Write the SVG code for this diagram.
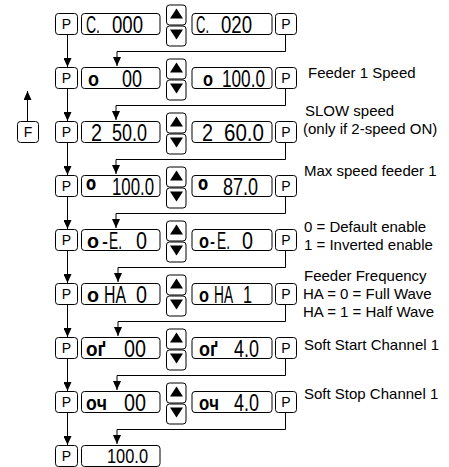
<svg xmlns="http://www.w3.org/2000/svg" xmlns:xlink="http://www.w3.org/1999/xlink" width="449" height="467" viewBox="0 0 449 467">
<style>
.box{fill:#fff;stroke:#000;stroke-width:1}
.tri{fill:#000;stroke:none}
.ln{fill:none;stroke:#000;stroke-width:1}
.p{font-family:"Liberation Sans",Arial,sans-serif;font-size:14px;text-anchor:middle;fill:#000}
.d{font-family:"Liberation Sans Narrow","Liberation Sans",Arial,sans-serif;font-size:23px;fill:#000}
.g{font-family:"Liberation Sans",Arial,sans-serif;font-size:20px;font-weight:bold;fill:#000}
.lab{font-family:"Liberation Sans",Arial,sans-serif;font-size:15px;fill:#000}
</style>
<defs>
<marker id="ah" markerUnits="userSpaceOnUse" viewBox="0 0 9 8" markerWidth="9" markerHeight="8" refX="9" refY="4" orient="auto">
<path d="M0,0 L9,4 L0,8 Z" fill="#000"/>
</marker>
<g id="btns">
<rect class="box" x="166.5" y="-8.5" width="19.5" height="20" rx="3"/>
<path class="tri" d="M170 5 L183 5 L176.5 -5 Z"/>
<rect class="box" x="166.5" y="12.5" width="19.5" height="20" rx="3"/>
<path class="tri" d="M170 16 L183 16 L176.5 26 Z"/>
</g>
</defs>

<g id="connectors">
<line class="ln" x1="27.5" y1="121.5" x2="27.5" y2="91" marker-end="url(#ah)"/>
<line class="ln" x1="67.5" y1="34.5" x2="67.5" y2="67" marker-end="url(#ah)"/>
<line class="ln" x1="67.5" y1="88.5" x2="67.5" y2="121" marker-end="url(#ah)"/>
<line class="ln" x1="67.5" y1="142.5" x2="67.5" y2="175" marker-end="url(#ah)"/>
<line class="ln" x1="67.5" y1="196.5" x2="67.5" y2="229" marker-end="url(#ah)"/>
<line class="ln" x1="67.5" y1="250.5" x2="67.5" y2="283" marker-end="url(#ah)"/>
<line class="ln" x1="67.5" y1="304.5" x2="67.5" y2="337" marker-end="url(#ah)"/>
<line class="ln" x1="67.5" y1="358.5" x2="67.5" y2="391" marker-end="url(#ah)"/>
<line class="ln" x1="67.5" y1="412.5" x2="67.5" y2="445" marker-end="url(#ah)"/>
<polyline class="ln" points="285.5,34.5 285.5,51.5 117,51.5 117,66" marker-end="url(#ah)"/>
<polyline class="ln" points="285.5,88.5 285.5,105.5 116,105.5 116,120" marker-end="url(#ah)"/>
<polyline class="ln" points="285.5,142.5 285.5,159.5 116,159.5 116,174" marker-end="url(#ah)"/>
<polyline class="ln" points="285.5,196.5 285.5,213.5 116,213.5 116,228" marker-end="url(#ah)"/>
<polyline class="ln" points="285.5,250.5 285.5,267.5 118,267.5 118,282" marker-end="url(#ah)"/>
<polyline class="ln" points="285.5,304.5 285.5,321.5 118,321.5 118,336" marker-end="url(#ah)"/>
<polyline class="ln" points="285.5,358.5 285.5,375.5 117,375.5 117,390" marker-end="url(#ah)"/>
<polyline class="ln" points="285.5,412.5 285.5,429.5 117,429.5 117,444" marker-end="url(#ah)"/>
</g>

<g id="F">
<rect class="box" x="17.5" y="121.5" width="21" height="21" rx="3"/>
<text class="p" x="28" y="137">F</text>
</g>

<!-- Row 1 -->
<g id="r1">
<g id="r1-p1"><rect class="box" x="55.5" y="13.5" width="22" height="21" rx="3"/><text class="p" x="66.5" y="29">P</text></g>
<g id="r1-d1"><rect class="box" x="81.5" y="13.5" width="78.5" height="21" rx="3"/>
<text class="d" x="86" y="32.5" textLength="14" lengthAdjust="spacingAndGlyphs">C.</text>
<text class="d" x="112" y="32.5" textLength="31" lengthAdjust="spacingAndGlyphs">000</text></g>
<g id="r1-btn"><use xlink:href="#btns" transform="translate(0,13.5)"/></g>
<g id="r1-d2"><rect class="box" x="192" y="13.5" width="80" height="21" rx="3"/>
<text class="d" x="196" y="32.5" textLength="13" lengthAdjust="spacingAndGlyphs">C.</text>
<text class="d" x="221" y="32.5" textLength="31" lengthAdjust="spacingAndGlyphs">020</text></g>
<g id="r1-p2"><rect class="box" x="275.5" y="13.5" width="21" height="21" rx="3"/><text class="p" x="286" y="29">P</text></g>
</g>

<!-- Row 2 -->
<g id="r2">
<g id="r2-p1"><rect class="box" x="55.5" y="67.5" width="22" height="21" rx="3"/><text class="p" x="66.5" y="83">P</text></g>
<g id="r2-d1"><rect class="box" x="81.5" y="67.5" width="78.5" height="21" rx="3"/>
<text class="g" x="88" y="85.5" textLength="11" lengthAdjust="spacingAndGlyphs">o</text>
<text class="d" x="122" y="86.5" textLength="20" lengthAdjust="spacingAndGlyphs">00</text></g>
<g id="r2-btn"><use xlink:href="#btns" transform="translate(0,67.5)"/></g>
<g id="r2-d2"><rect class="box" x="192" y="67.5" width="80" height="21" rx="3"/>
<text class="g" x="203" y="85.5" textLength="10" lengthAdjust="spacingAndGlyphs">o</text>
<text class="d" x="222" y="86.5" textLength="43" lengthAdjust="spacingAndGlyphs">100.0</text></g>
<g id="r2-p2"><rect class="box" x="275.5" y="67.5" width="21" height="21" rx="3"/><text class="p" x="286" y="83">P</text></g>
</g>

<!-- Row 3 -->
<g id="r3">
<g id="r3-p1"><rect class="box" x="55.5" y="121.5" width="22" height="21" rx="3"/><text class="p" x="66.5" y="137">P</text></g>
<g id="r3-d1"><rect class="box" x="81.5" y="121.5" width="78.5" height="21" rx="3"/>
<text class="d" x="91" y="140.5" textLength="11" lengthAdjust="spacingAndGlyphs">2</text>
<text class="d" x="112" y="140.5" textLength="35" lengthAdjust="spacingAndGlyphs">50.0</text></g>
<g id="r3-btn"><use xlink:href="#btns" transform="translate(0,121.5)"/></g>
<g id="r3-d2"><rect class="box" x="192" y="121.5" width="80" height="21" rx="3"/>
<text class="d" x="202" y="140.5" textLength="11" lengthAdjust="spacingAndGlyphs">2</text>
<text class="d" x="224" y="140.5" textLength="40" lengthAdjust="spacingAndGlyphs">60.0</text></g>
<g id="r3-p2"><rect class="box" x="275.5" y="121.5" width="21" height="21" rx="3"/><text class="p" x="286" y="137">P</text></g>
</g>

<!-- Row 4 -->
<g id="r4">
<g id="r4-p1"><rect class="box" x="55.5" y="175.5" width="22" height="21" rx="3"/><text class="p" x="66.5" y="191">P</text></g>
<g id="r4-d1"><rect class="box" x="81.5" y="175.5" width="78.5" height="21" rx="3"/>
<text class="g" transform="translate(86,200.5) scale(1,1.6)" x="0" y="0" textLength="10" lengthAdjust="spacingAndGlyphs">º</text>
<text class="d" x="112" y="194.5" textLength="42" lengthAdjust="spacingAndGlyphs">100.0</text></g>
<g id="r4-btn"><use xlink:href="#btns" transform="translate(0,175.5)"/></g>
<g id="r4-d2"><rect class="box" x="192" y="175.5" width="80" height="21" rx="3"/>
<text class="g" transform="translate(198,200.5) scale(1,1.6)" x="0" y="0" textLength="10" lengthAdjust="spacingAndGlyphs">º</text>
<text class="d" x="223" y="194.5" textLength="35" lengthAdjust="spacingAndGlyphs">87.0</text></g>
<g id="r4-p2"><rect class="box" x="275.5" y="175.5" width="21" height="21" rx="3"/><text class="p" x="286" y="191">P</text></g>
</g>

<!-- Row 5 -->
<g id="r5">
<g id="r5-p1"><rect class="box" x="55.5" y="229.5" width="22" height="21" rx="3"/><text class="p" x="66.5" y="245">P</text></g>
<g id="r5-d1"><rect class="box" x="81.5" y="229.5" width="78.5" height="21" rx="3"/>
<text class="g" x="87" y="247.5" textLength="12" lengthAdjust="spacingAndGlyphs">o</text>
<text class="d" x="102" y="248.5" textLength="6" lengthAdjust="spacingAndGlyphs">-</text>
<text class="d" x="109" y="248.5" textLength="13" lengthAdjust="spacingAndGlyphs">E.</text>
<text class="d" x="136" y="248.5" textLength="11" lengthAdjust="spacingAndGlyphs">0</text></g>
<g id="r5-btn"><use xlink:href="#btns" transform="translate(0,229.5)"/></g>
<g id="r5-d2"><rect class="box" x="192" y="229.5" width="80" height="21" rx="3"/>
<text class="g" x="199" y="247.5" textLength="10" lengthAdjust="spacingAndGlyphs">o</text>
<text class="d" x="210" y="248.5" textLength="5" lengthAdjust="spacingAndGlyphs">-</text>
<text class="d" x="217" y="248.5" textLength="13" lengthAdjust="spacingAndGlyphs">E.</text>
<text class="d" x="242" y="248.5" textLength="11" lengthAdjust="spacingAndGlyphs">0</text></g>
<g id="r5-p2"><rect class="box" x="275.5" y="229.5" width="21" height="21" rx="3"/><text class="p" x="286" y="245">P</text></g>
</g>

<!-- Row 6 -->
<g id="r6">
<g id="r6-p1"><rect class="box" x="55.5" y="283.5" width="22" height="21" rx="3"/><text class="p" x="66.5" y="299">P</text></g>
<g id="r6-d1"><rect class="box" x="81.5" y="283.5" width="78.5" height="21" rx="3"/>
<text class="g" x="87" y="301.5" textLength="12" lengthAdjust="spacingAndGlyphs">o</text>
<text class="d" x="104" y="302.5" textLength="22" lengthAdjust="spacingAndGlyphs">HA</text>
<text class="d" x="136" y="302.5" textLength="11" lengthAdjust="spacingAndGlyphs">0</text></g>
<g id="r6-btn"><use xlink:href="#btns" transform="translate(0,283.5)"/></g>
<g id="r6-d2"><rect class="box" x="192" y="283.5" width="80" height="21" rx="3"/>
<text class="g" x="199" y="301.5" textLength="10" lengthAdjust="spacingAndGlyphs">o</text>
<text class="d" y="302.5"><tspan x="214" textLength="19" lengthAdjust="spacingAndGlyphs">HA</tspan><tspan x="243" textLength="9" lengthAdjust="spacingAndGlyphs">1</tspan></text></g>
<g id="r6-p2"><rect class="box" x="275.5" y="283.5" width="21" height="21" rx="3"/><text class="p" x="286" y="299">P</text></g>
</g>

<!-- Row 7 -->
<g id="r7">
<g id="r7-p1"><rect class="box" x="55.5" y="337.5" width="22" height="21" rx="3"/><text class="p" x="66.5" y="353">P</text></g>
<g id="r7-d1"><rect class="box" x="81.5" y="337.5" width="78.5" height="21" rx="3"/>
<text class="g" x="86" y="355.5" textLength="20" lengthAdjust="spacingAndGlyphs">oґ</text>
<text class="d" x="124" y="356.5" textLength="22" lengthAdjust="spacingAndGlyphs">00</text></g>
<g id="r7-btn"><use xlink:href="#btns" transform="translate(0,337.5)"/></g>
<g id="r7-d2"><rect class="box" x="192" y="337.5" width="80" height="21" rx="3"/>
<text class="g" x="199" y="355.5" textLength="19" lengthAdjust="spacingAndGlyphs">oґ</text>
<text class="d" x="234" y="356.5" textLength="25" lengthAdjust="spacingAndGlyphs">4.0</text></g>
<g id="r7-p2"><rect class="box" x="275.5" y="337.5" width="21" height="21" rx="3"/><text class="p" x="286" y="353">P</text></g>
</g>

<!-- Row 8 -->
<g id="r8">
<g id="r8-p1"><rect class="box" x="55.5" y="391.5" width="22" height="21" rx="3"/><text class="p" x="66.5" y="407">P</text></g>
<g id="r8-d1"><rect class="box" x="81.5" y="391.5" width="78.5" height="21" rx="3"/>
<text class="g" x="86" y="409.5" textLength="21" lengthAdjust="spacingAndGlyphs">oч</text>
<text class="d" x="124" y="410.5" textLength="22" lengthAdjust="spacingAndGlyphs">00</text></g>
<g id="r8-btn"><use xlink:href="#btns" transform="translate(0,391.5)"/></g>
<g id="r8-d2"><rect class="box" x="192" y="391.5" width="80" height="21" rx="3"/>
<text class="g" x="199" y="409.5" textLength="20" lengthAdjust="spacingAndGlyphs">oч</text>
<text class="d" x="234" y="410.5" textLength="25" lengthAdjust="spacingAndGlyphs">4.0</text></g>
<g id="r8-p2"><rect class="box" x="275.5" y="391.5" width="21" height="21" rx="3"/><text class="p" x="286" y="407">P</text></g>
</g>

<!-- Row 9 -->
<g id="r9">
<g id="r9-p1"><rect class="box" x="55.5" y="445.5" width="22" height="21" rx="3"/><text class="p" x="66.5" y="461">P</text></g>
<g id="r9-d1"><rect class="box" x="81.5" y="445.5" width="78.5" height="21" rx="3"/>
<text class="d" x="107" y="462.5" style="font-size:21px" textLength="41" lengthAdjust="spacingAndGlyphs">100.0</text></g>
</g>

<g id="labels">
<text class="lab" x="308" y="78">Feeder 1 Speed</text>
<text class="lab" x="305" y="116">SLOW speed</text>
<text class="lab" x="303" y="134">(only if 2-speed ON)</text>
<text class="lab" x="304" y="176">Max speed feeder 1</text>
<text class="lab" x="304" y="232">0 = Default enable</text>
<text class="lab" x="304" y="250">1 = Inverted enable</text>
<text class="lab" x="304" y="281">Feeder Frequency</text>
<text class="lab" x="303" y="299">HA = 0 = Full Wave</text>
<text class="lab" x="303" y="317">HA = 1 = Half Wave</text>
<text class="lab" x="304" y="350">Soft Start Channel 1</text>
<text class="lab" x="304" y="399">Soft Stop Channel 1</text>
</g>
</svg>
